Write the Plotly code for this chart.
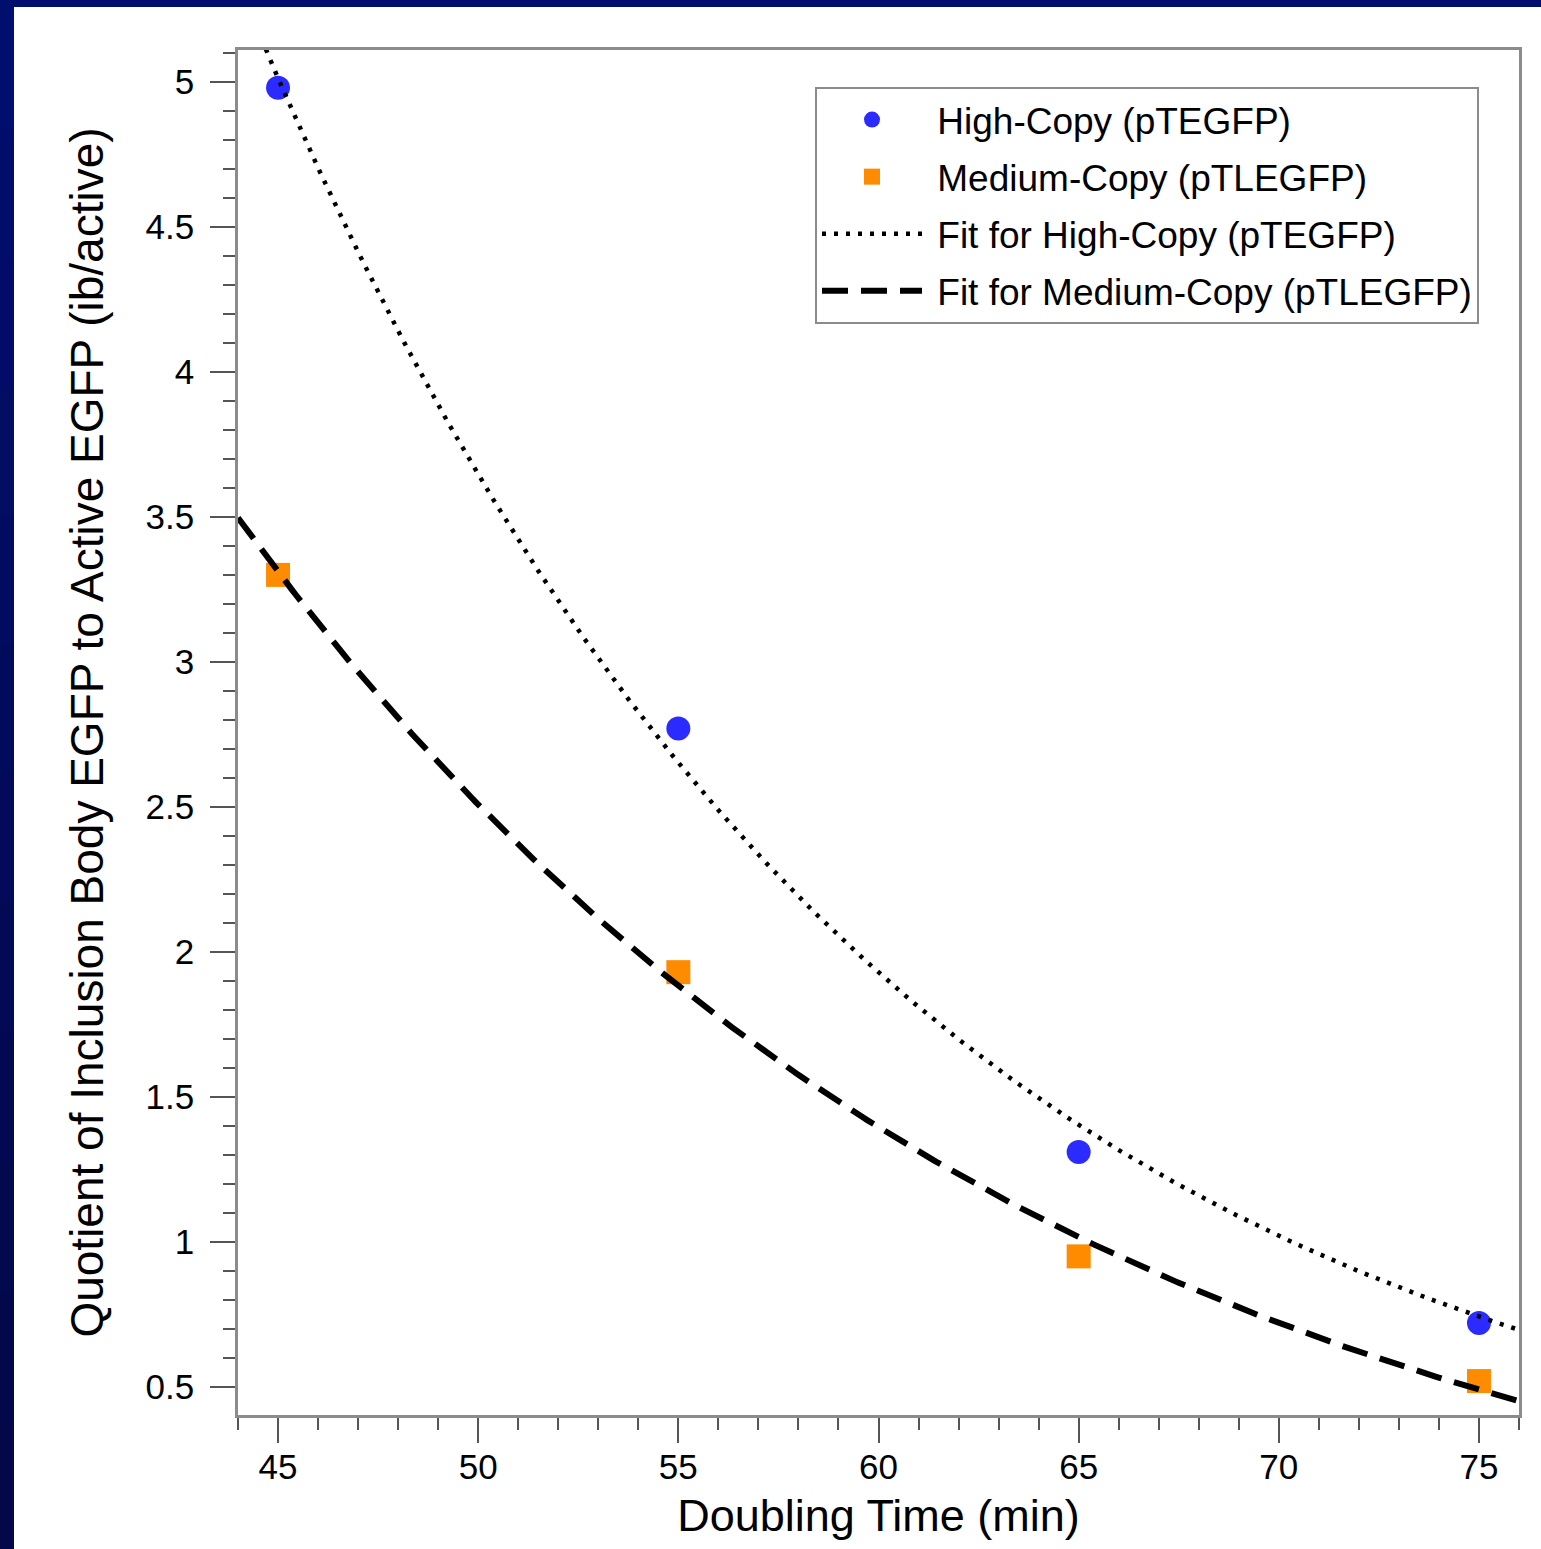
import numpy as np
import plotly.graph_objects as go

# Doubling time (min) and quotient of inclusion-body EGFP to active EGFP
doubling_time = [45, 55, 65, 75]
high_copy = [4.98, 2.77, 1.31, 0.72]     # pTEGFP
medium_copy = [3.30, 1.93, 0.95, 0.52]   # pTLEGFP

x_range = [44, 76]
y_range = [0.403, 5.11]
y_ticks = [0.5, 1, 1.5, 2, 2.5, 3, 3.5, 4, 4.5, 5]
x_ticks = [45, 50, 55, 60, 65, 70, 75]

W, H = 1541, 1549
M_L, M_R, M_T, M_B = 238, 22, 50, 134
FONT = "Liberation Sans, Arial, Helvetica, sans-serif"


def exp_fit(x, y):
    """Least-squares fit of y = a * exp(b * x) (Gauss-Newton from a log-linear start)."""
    x = np.asarray(x, float)
    y = np.asarray(y, float)
    b, ln_a = np.polyfit(x, np.log(y), 1)
    a = np.exp(ln_a)
    for _ in range(50):
        e = np.exp(b * x)
        J = np.column_stack([e, a * x * e])
        step, *_ = np.linalg.lstsq(J, y - a * e, rcond=None)
        a += step[0]
        b += step[1]
    return lambda t: a * np.exp(b * np.asarray(t, float))


def exp_offset_fit(x, y):
    """Least-squares fit of y = a * exp(-k * (x - x0)) + c, scanning the rate k."""
    x = np.asarray(x, float)
    y = np.asarray(y, float)
    x0 = x.min()
    best = None
    for k in np.linspace(0.005, 0.2, 4000):
        A = np.column_stack([np.exp(-k * (x - x0)), np.ones_like(x)])
        coef, *_ = np.linalg.lstsq(A, y, rcond=None)
        sse = float(np.sum((A @ coef - y) ** 2))
        if best is None or sse < best[0]:
            best = (sse, k, coef)
    _, k, (a, c) = best
    return lambda t: a * np.exp(-k * (np.asarray(t, float) - x0)) + c


x_fit = np.linspace(x_range[0], x_range[1], 400)
fit_high = exp_fit(doubling_time, high_copy)
fit_medium = exp_offset_fit(doubling_time, medium_copy)

NB = "\u00a0"  # small gap between legend symbol and label

fig = go.Figure()
fig.add_trace(go.Scatter(
    x=doubling_time, y=high_copy, mode="markers", name=NB + "High-Copy (pTEGFP)",
    legendgroup="a",
    marker=dict(symbol="circle", size=24, color="#2b2bff", line=dict(width=0)),
))
fig.add_trace(go.Scatter(
    x=doubling_time, y=medium_copy, mode="markers", name=NB + "Medium-Copy (pTLEGFP)",
    legendgroup="b",
    marker=dict(symbol="square", size=24, color="#ff8c00", line=dict(width=0)),
))
fig.add_trace(go.Scatter(
    x=x_fit, y=fit_high(x_fit), mode="lines",
    name=NB + "Fit for High-Copy (pTEGFP)", legendgroup="c",
    line=dict(color="black", width=4.5, dash="4px,8px"),
))
fig.add_trace(go.Scatter(
    x=x_fit, y=fit_medium(x_fit), mode="lines",
    name=NB + "Fit for Medium-Copy (pTLEGFP)", legendgroup="d",
    line=dict(color="black", width=6, dash="26px,13px"),
))

axis_common = dict(
    showline=True, linecolor="#8c8c8c", linewidth=2.5, mirror=True,
    showgrid=False, zeroline=False, automargin=False,
    ticks="outside", ticklen=25, tickwidth=2, tickcolor="#555555",
    tickfont=dict(family=FONT, size=35, color="black"),
)

fig.update_xaxes(
    range=x_range, tickvals=x_ticks,
    minor=dict(dtick=1, tick0=0, ticklen=12, tickwidth=2, tickcolor="#555555",
               ticks="outside", showgrid=False),
    title=dict(text="Doubling Time (min)", font=dict(family=FONT, size=45, color="black"), standoff=15),
    ticklabelstandoff=-6,
    **axis_common,
)
fig.update_yaxes(
    range=y_range, tickvals=y_ticks,
    minor=dict(dtick=0.1, tick0=0, ticklen=12, tickwidth=2, tickcolor="#555555",
               ticks="outside", showgrid=False),
    title=dict(text="Quotient of Inclusion Body EGFP to Active EGFP (ib/active)",
               font=dict(family=FONT, size=46, color="black"), standoff=28),
    ticklabelstandoff=9,
    **axis_common,
)

# dark slide frame along the top and left edges
pw, ph = W - M_L - M_R, H - M_T - M_B


def px_x(p):
    return (p - M_L) / pw


def px_y(p):
    return (H - M_B - p) / ph


shapes = [dict(type="rect", xref="paper", yref="paper",
               x0=px_x(0), x1=px_x(W), y0=px_y(7), y1=px_y(0),
               fillcolor="#000f6e", line=dict(width=0), layer="above")]
n_band = 12
for i in range(n_band):
    t = i / (n_band - 1)
    r = int(0 + t * 4)
    g = int(14 - t * 6)
    b = int(110 - t * 38)
    shapes.append(dict(type="rect", xref="paper", yref="paper",
                       x0=px_x(0), x1=px_x(14),
                       y0=px_y(H * (i + 1) / n_band + 1), y1=px_y(H * i / n_band),
                       fillcolor=f"rgb({r},{g},{b})", line=dict(width=0), layer="above"))

fig.update_layout(
    width=W, height=H,
    margin=dict(l=M_L, r=M_R, t=M_T, b=M_B, autoexpand=False),
    paper_bgcolor="white", plot_bgcolor="white",
    font=dict(family=FONT, color="black"),
    shapes=shapes,
    legend=dict(
        x=px_x(815), y=px_y(87), xanchor="left", yanchor="top",
        bgcolor="white", bordercolor="#8c8c8c", borderwidth=2,
        font=dict(family=FONT, size=37, color="black"),
        itemwidth=100, tracegroupgap=6, traceorder="grouped",
    ),
)

fig.write_html("out.html")
